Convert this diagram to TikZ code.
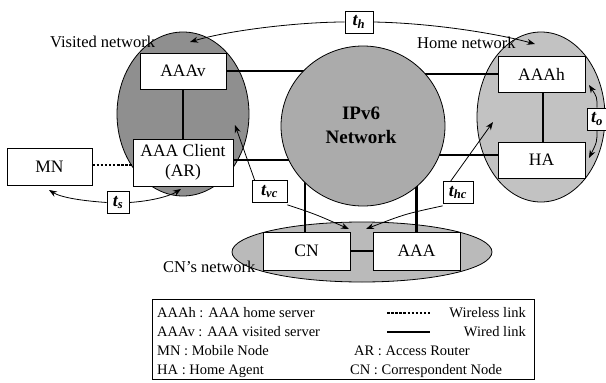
\documentclass[tikz,border=0pt]{standalone}
\usepackage{fontspec}
\setmainfont{Liberation Serif}
\usetikzlibrary{arrows.meta,shapes.geometric}
\begin{document}
\begin{tikzpicture}[x=1pt,y=-1pt,
  net/.style={ellipse, draw=black, line width=0.8pt, inner sep=0pt, outer sep=0pt},
  box/.style={draw=black, fill=white, line width=0.9pt, inner sep=0pt, align=center, font=\fontsize{17.5}{19.5}\selectfont},
  wired/.style={line width=2.6pt},
  wireless/.style={line width=1.7pt, dash pattern=on 2.5pt off 1.6pt},
  tlab/.style={draw=black, fill=white, line width=0.7pt, inner sep=0pt, minimum height=22pt, font=\fontsize{18}{18}\selectfont\bfseries\itshape},
  arr/.style={line width=0.8pt, -{Stealth[length=8pt,width=6pt]}},
  lbl/.style={inner sep=0pt, font=\fontsize{16.5}{17}\selectfont},
  leg/.style={inner sep=0pt, font=\fontsize{14.5}{15}\selectfont}
]
\useasboundingbox (0,0) rectangle (606,383);

% network clouds
\node[net, fill=black!44, minimum width=132pt, minimum height=164pt] (vis) at (183,114) {};
\node[net, fill=black!24, minimum width=128pt, minimum height=170pt] (home) at (541,117) {};
\node[net, fill=black!27, minimum width=260pt, minimum height=60pt] (cnnet) at (362,252) {};

% boxes (positions)
\node[box, minimum width=86pt, minimum height=36pt] (aaav) at (183,71) {AAAv};
\node[box, minimum width=100pt, minimum height=47pt] (client) at (183,162.5) {AAA Client\\(AR)};
\node[box, minimum width=85pt, minimum height=37pt] (mn) at (49.5,166.5) {MN};
\node[box, minimum width=87pt, minimum height=36pt] (aaah) at (541.5,74) {AAAh};
\node[box, minimum width=87pt, minimum height=36pt] (ha) at (541.5,160) {HA};
\node[box, minimum width=87pt, minimum height=38pt] (cn) at (306.5,251) {CN};
\node[box, minimum width=87pt, minimum height=38pt] (aaa) at (416.5,251) {AAA};

% wired links (ends hidden under the IPv6 cloud)
\coordinate (ip) at (363,126);
\draw[wired] (aaav.east) -- (aaav.east -| ip);
\draw[wired] ([yshift=2.5pt]client.east) -- ([yshift=2.5pt]client.east -| ip);
\draw[wired] (aaah.west) -- (aaah.west -| ip);
\draw[wired] ([yshift=5pt]ha.west) -- ([yshift=5pt]ha.west -| ip);
\draw[wired] ([xshift=-1.5pt]cn.north) -- ([xshift=-1.5pt]cn.north |- ip);
\draw[wired] (aaa.north) -- (aaa.north |- ip);
\draw[wired] (aaav.south) -- (client.north);
\draw[wired] ([xshift=1.5pt]aaah.south) -- ([xshift=1.5pt]ha.north);
\draw[wired] (cn.east) -- (aaa.west);
\draw[wireless] ([yshift=1.5pt]mn.east) -- ([yshift=1.5pt]mn.east -| client.west);

\node[net, fill=black!33, minimum width=164pt, minimum height=160pt] (ipv6) at (ip) {};
\node[font=\fontsize{19}{24}\selectfont\bfseries, align=center] (iptext) at (361,125) {IPv6\\Network};

% redraw boxes on top
\node[box, minimum width=86pt, minimum height=36pt] at (aaav) {AAAv};
\node[box, minimum width=100pt, minimum height=47pt] at (client) {AAA Client\\(AR)};
\node[box, minimum width=85pt, minimum height=37pt] at (mn) {MN};
\node[box, minimum width=87pt, minimum height=36pt] at (aaah) {AAAh};
\node[box, minimum width=87pt, minimum height=36pt] at (ha) {HA};
\node[box, minimum width=87pt, minimum height=38pt] at (cn) {CN};
\node[box, minimum width=87pt, minimum height=38pt] at (aaa) {AAA};

% network labels
\node[lbl, anchor=west] (vlab) at (50,42) {Visited network};
\node[lbl, anchor=west] (hlab) at (417,43) {Home network};
\node[lbl, anchor=west] (clab) at (163,267) {CN’s network};

% delay labels
\node[tlab, minimum width=28pt] (th) at (359,22) {t\textsubscript{h}};
\node[tlab, minimum width=22pt] (ts) at (118,202.5) {t\textsubscript{s}};
\node[tlab, minimum width=35pt] (tvc) at (269.5,191.5) {t\textsubscript{vc}};
\node[tlab, minimum width=30pt] (thc) at (458,192.5) {t\textsubscript{hc}};
\node[tlab, minimum width=20pt] (to) at (597,119) {t\textsubscript{o}};

\coordinate (pvis) at (190,42);
\coordinate (phome) at (535,44);
\coordinate (pmn) at (49,190);
\coordinate (pcl) at (181,189);
\coordinate (pvis2) at (235,125);
\coordinate (phome2) at (493,122);
\coordinate (pcn) at (349,229);
\coordinate (paaa) at (366,229);
\coordinate (paaah) at (589,85);
\coordinate (pha) at (589,158);

\draw[arr] (th.west) .. controls (300,22) and (230,30) .. (pvis);
\draw[arr] (th.east) .. controls (430,23) and (495,33) .. (phome);
\draw[arr] (ts.west) .. controls (85,201) and (62,198) .. (pmn);
\draw[arr] (ts.east) .. controls (152,201) and (170,196) .. (pcl);
\draw[arr] ([xshift=3pt]tvc.north west) -- (pvis2);
\draw[arr] ([yshift=-2pt]tvc.south east) .. controls (315,214) .. (pcn);
\draw[arr] ([xshift=8pt]thc.north west) -- (phome2);
\draw[arr] ([yshift=-2pt]thc.south west) .. controls (405,214) .. (paaa);
\draw[arr] (to.north) .. controls (597,97) .. (paaah);
\draw[arr] (to.south) .. controls (597,142) .. (pha);

% legend
\node[draw=black, line width=0.8pt, minimum width=382pt, minimum height=80pt, inner sep=0pt] (legend) at (343,339) {};
\node[leg, anchor=base west] (l1) at (157,317) {AAAh : AAA home server};
\node[leg, anchor=base west] (l2) at (157,336) {AAAv : AAA visited server};
\node[leg, anchor=base west] (l3) at (157,355) {MN : Mobile Node};
\node[leg, anchor=base west] (l4) at (157,374) {HA : Home Agent};
\node[leg, anchor=base east] (r1) at (526,317) {Wireless link};
\node[leg, anchor=base east] (r2) at (526,336) {Wired link};
\node[leg, anchor=base west] (r3) at (354,355) {AR : Access Router};
\node[leg, anchor=base west] (r4) at (350,374) {CN : Correspondent Node};
\coordinate (d1) at (387,313);
\coordinate (d2) at (430,313);
\coordinate (w1) at (387,332);
\coordinate (w2) at (430,332);
\draw[wireless, line width=1.3pt] (d1) -- (d2);
\draw[wired, line width=2pt] (w1) -- (w2);
\end{tikzpicture}
\end{document}
